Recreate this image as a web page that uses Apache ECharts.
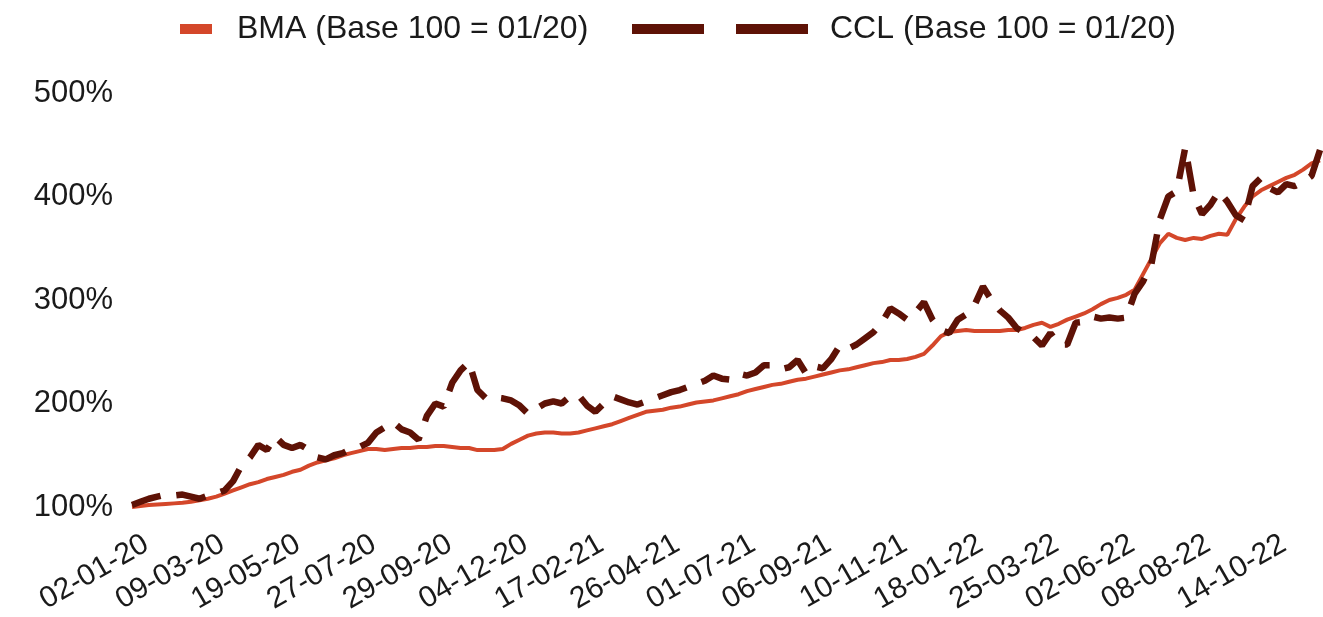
<!DOCTYPE html>
<html>
<head>
<meta charset="utf-8">
<script src="https://cdn.jsdelivr.net/npm/echarts@6/dist/echarts.min.js"></script>
<style>
html,body{margin:0;padding:0;background:#fff;}
#chart{width:1323px;height:617px;}
</style>
</head>
<body>
<div id="chart"></div>
<script>
const categories = [
'02-01-20','10-01-20','17-01-20','24-01-20','31-01-20','07-02-20','14-02-20','21-02-20','02-03-20',
'09-03-20','17-03-20','25-03-20','03-04-20','13-04-20','21-04-20','28-04-20','05-05-20','12-05-20',
'19-05-20','27-05-20','03-06-20','11-06-20','19-06-20','29-06-20','06-07-20','13-07-20','20-07-20',
'27-07-20','03-08-20','10-08-20','18-08-20','25-08-20','01-09-20','08-09-20','15-09-20','22-09-20',
'29-09-20','06-10-20','14-10-20','21-10-20','28-10-20','04-11-20','11-11-20','19-11-20','26-11-20',
'04-12-20','11-12-20','18-12-20','28-12-20','05-01-21','13-01-21','21-01-21','29-01-21','08-02-21',
'17-02-21','24-02-21','03-03-21','10-03-21','18-03-21','26-03-21','06-04-21','13-04-21','19-04-21',
'26-04-21','03-05-21','10-05-21','18-05-21','27-05-21','03-06-21','10-06-21','17-06-21','24-06-21',
'01-07-21','08-07-21','15-07-21','22-07-21','29-07-21','05-08-21','12-08-21','20-08-21','27-08-21',
'06-09-21','13-09-21','20-09-21','27-09-21','04-10-21','12-10-21','19-10-21','26-10-21','03-11-21',
'10-11-21','17-11-21','24-11-21','01-12-21','09-12-21','16-12-21','23-12-21','03-01-22','10-01-22',
'18-01-22','25-01-22','01-02-22','08-02-22','15-02-22','22-02-22','04-03-22','11-03-22','18-03-22',
'25-03-22','04-04-22','11-04-22','19-04-22','26-04-22','04-05-22','11-05-22','18-05-22','26-05-22',
'02-06-22','09-06-22','16-06-22','24-06-22','01-07-22','08-07-22','15-07-22','22-07-22','01-08-22',
'08-08-22','15-08-22','23-08-22','30-08-22','06-09-22','13-09-22','20-09-22','27-09-22','05-10-22',
'14-10-22','21-10-22','28-10-22','04-11-22','11-11-22','18-11-22','25-11-22'
];

const tickLabels = ['02-01-20','09-03-20','19-05-20','27-07-20','29-09-20','04-12-20','17-02-21','26-04-21',
'01-07-21','06-09-21','10-11-21','18-01-22','25-03-22','02-06-22','08-08-22','14-10-22'];

const bma = [
100,101,102,102.5,103,103.5,104,105,106.5,
108,110,113,116,119,122,124,127,129,
131,134,136,140,143,145,147,150,152,
154,156,156,155,156,157,157,158,158,
159,159,158,157,157,155,155,155,156,
161,165,169,171,172,172,171,171,172,
174,176,178,180,183,186,189,192,193,
194,196,197,199,201,202,203,205,207,
209,212,214,216,218,219,221,223,224,
226,228,230,232,233,235,237,239,240,
242,242,243,245,248,256,265,269,270,
271,270,270,270,270,271,271,273,276,
278,274,277,281,284,287,291,296,300,
302,305,310,325,340,355,364,360,358,
360,359,362,364,363,378,390,400,406,
410,414,418,421,426,432,435
];

const ccl = [
102,105,108,110,112,111,112,110,108,
111,113,116,125,140,148,160,155,168,
160,157,160,155,148,146,150,152,156,
158,162,172,177,182,175,172,165,188,
200,197,220,232,240,213,205,206,205,
203,198,190,195,200,202,200,207,208,
198,192,200,207,204,201,199,202,205,
208,211,213,216,219,222,227,224,223,
229,227,230,237,237,233,235,242,229,
236,234,243,256,253,257,263,269,278,
292,287,281,288,298,281,271,268,281,
286,295,313,300,290,283,273,268,264,
256,268,257,257,278,279,284,282,283,
282,283,306,318,335,378,400,405,447,
401,383,392,405,395,382,377,410,418,
408,404,412,410,414,420,445
];

const yTicks = [100, 200, 300, 400, 500];

const FONT = '"Liberation Sans", Arial, sans-serif';
const BMA_COLOR = '#D4472A';
const CCL_COLOR = '#5E1206';

const chart = echarts.init(document.getElementById('chart'), null, {renderer: 'canvas'});
chart.setOption({
  animation: false,
  backgroundColor: '#ffffff',
  legend: [
    {
      data: [{name: 'BMA (Base 100 = 01/20)', icon: 'rect'}],
      left: 180, top: 13, padding: 0,
      itemWidth: 32, itemHeight: 10,
      textStyle: {fontFamily: FONT, fontSize: 32, color: '#1a1a1a', padding: [0, 0, 0, 20]}
    },
    {
      data: [{name: 'CCL (Base 100 = 01/20)', icon: 'path://M0,0H72V10H0Z M104,0H176V10H104Z'}],
      left: 632, top: 13, padding: 0,
      itemWidth: 176, itemHeight: 10,
      textStyle: {fontFamily: FONT, fontSize: 32, color: '#1a1a1a', padding: [0, 0, 0, 17]}
    }
  ],
  grid: {left: 132, right: 3, top: 93, bottom: 110, containLabel: false},
  xAxis: {
    type: 'category',
    data: categories,
    boundaryGap: false,
    axisLine: {show: false},
    axisTick: {show: false},
    splitLine: {show: false},
    axisLabel: {
      interval: function (idx, val) { return tickLabels.indexOf(val) >= 0; },
      rotate: 30,
      fontFamily: FONT,
      fontSize: 30,
      color: '#1a1a1a',
      margin: 26,
      verticalAlign: 'top',
      padding: [0, -8, 0, 0]
    }
  },
  yAxis: {
    type: 'value',
    min: yTicks[0],
    max: yTicks[yTicks.length - 1],
    interval: 100,
    axisLine: {show: false},
    axisTick: {show: false},
    splitLine: {show: false},
    axisLabel: {
      formatter: function (v) { return v + '%'; },
      fontFamily: FONT,
      fontSize: 31,
      color: '#1a1a1a',
      margin: 19
    }
  },
  series: [
    {
      name: 'BMA (Base 100 = 01/20)',
      type: 'line',
      data: bma,
      showSymbol: false,
      symbol: 'none',
      color: BMA_COLOR,
      lineStyle: {color: BMA_COLOR, width: 4}
    },
    {
      name: 'CCL (Base 100 = 01/20)',
      type: 'line',
      data: ccl,
      showSymbol: false,
      symbol: 'none',
      color: CCL_COLOR,
      lineStyle: {color: CCL_COLOR, width: 6.5, type: [30, 16], cap: 'butt'}
    }
  ]
});
</script>
</body>
</html>
